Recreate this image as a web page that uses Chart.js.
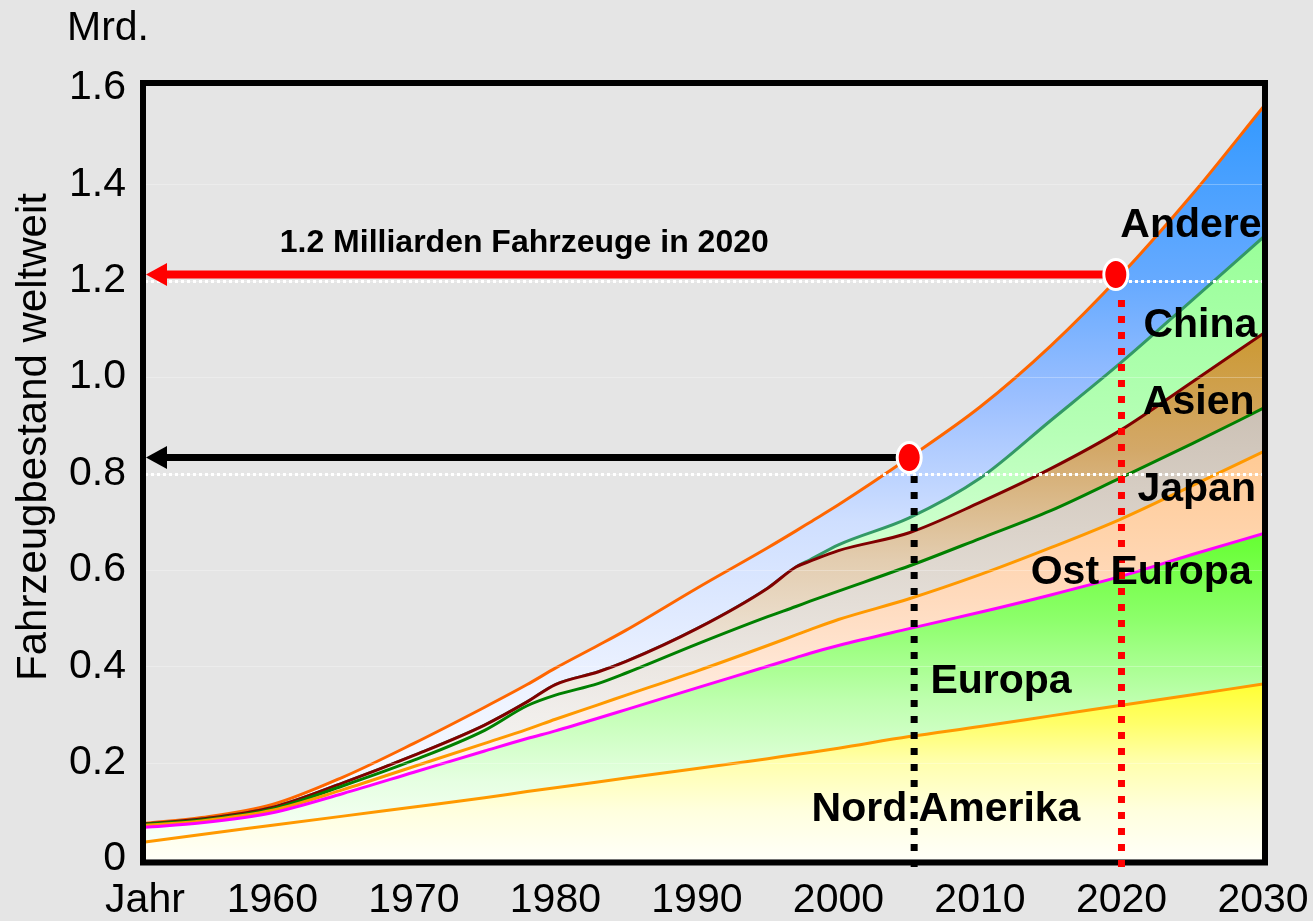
<!DOCTYPE html>
<html lang="de">
<head>
<meta charset="utf-8">
<title>Fahrzeugbestand weltweit</title>
<script src="https://cdn.jsdelivr.net/npm/chart.js@4/dist/chart.umd.min.js"></script>
<style>
  html, body { margin: 0; padding: 0; background: #e5e5e5; }
  #wrap { width: 1313px; height: 921px; position: relative; }
  canvas { display: block; }
</style>
</head>
<body>
<div id="wrap"><canvas id="chart" width="1313" height="921"></canvas></div>
<script>
// Vehicle stock by region (billions), stacked bottom to top
const years       = [1951, 1955, 1960, 1965, 1970, 1975, 1978, 1980, 1983, 1985, 1990, 1995, 1997, 1998, 2000, 2005, 2010, 2015, 2020, 2025, 2030];
const nordAmerika = [0.035, 0.051, 0.070, 0.089, 0.108, 0.127, 0.140, 0.148, 0.160, 0.168, 0.188, 0.208, 0.217, 0.221, 0.230, 0.254, 0.275, 0.297, 0.319, 0.341, 0.363];
const europa      = [0.031, 0.024, 0.026, 0.047, 0.072, 0.097, 0.110, 0.118, 0.132, 0.142, 0.167, 0.192, 0.201, 0.206, 0.213, 0.224, 0.237, 0.251, 0.268, 0.291, 0.312];
const ostEuropa   = [0.004, 0.004, 0.005, 0.008, 0.012, 0.016, 0.019, 0.024, 0.028, 0.030, 0.035, 0.043, 0.047, 0.049, 0.054, 0.062, 0.078, 0.098, 0.119, 0.143, 0.170];
const japan       = [0.002, 0.002, 0.003, 0.008, 0.013, 0.027, 0.049, 0.050, 0.044, 0.046, 0.056, 0.060, 0.059, 0.059, 0.059, 0.068, 0.075, 0.077, 0.086, 0.087, 0.090];
const asien       = [0.001, 0.002, 0.003, 0.006, 0.010, 0.011, 0.008, 0.022, 0.024, 0.024, 0.032, 0.059, 0.082, 0.083, 0.084, 0.069, 0.075, 0.087, 0.099, 0.128, 0.155];
const china       = [0.000, 0.000, 0.000, 0.000, 0.000, 0.000, 0.000, 0.000, 0.000, 0.000, 0.000, 0.000, 0.000, 0.003, 0.012, 0.031, 0.050, 0.100, 0.140, 0.170, 0.200];
const andere      = [0.001, 0.003, 0.006, 0.012, 0.025, 0.037, 0.036, 0.034, 0.055, 0.065, 0.084, 0.084, 0.075, 0.078, 0.083, 0.125, 0.148, 0.155, 0.182, 0.219, 0.270];

// Axis ticks
const tickYears  = [1951, 1960, 1970, 1980, 1990, 2000, 2010, 2020, 2030];
const tickLabels = ['Jahr', '1960', '1970', '1980', '1990', '2000', '2010', '2020', '2030'];
const yTicks     = [0, 0.2, 0.4, 0.6, 0.8, 1.0, 1.2, 1.4, 1.6];
const refLevels  = [0.8, 1.2];

const FONT = '"Liberation Sans", Arial, Helvetica, sans-serif';

// Line colour and vertical gradient stops ([value, colour]) for each region
const regionStyles = [
  { label: 'Nord Amerika', data: nordAmerika, line: '#FF9900',
    stops: [[0.363, '#FFFF33'], [0.28, '#FFFF6A'], [0.2, '#FFFFAE'], [0.1, '#FFFFDE'], [0, '#FFFFF8']] },
  { label: 'Europa', data: europa, line: '#FF00FF',
    stops: [[0.67, '#66FF33'], [0.5, '#8CFF6A'], [0.33, '#BEFFAE'], [0.16, '#E6FFE2'], [0.04, '#F8FFF8']] },
  { label: 'Ost Europa', data: ostEuropa, line: '#FF9900',
    stops: [[0.845, '#FFCA94'], [0.55, '#FFDABC'], [0.3, '#FFEEE4'], [0.1, '#FFF8F4']] },
  { label: 'Japan', data: japan, line: '#008000',
    stops: [[0.935, '#CCC1B5'], [0.6, '#E0D9D1'], [0.3, '#F1EEEB'], [0.1, '#F8F7F6']] },
  { label: 'Asien', data: asien, line: '#800000',
    stops: [[1.09, '#CC9933'], [0.85, '#D3A868'], [0.62, '#E3CDB0'], [0.4, '#F0E8DE'], [0.15, '#F7F4F0']] },
  { label: 'China', data: china, line: '#339966',
    stops: [[1.29, '#99FF99'], [0.9, '#B5FFB5'], [0.6, '#D6FFD6']] },
  { label: 'Andere', data: andere, line: '#FF6600',
    stops: [[1.56, '#3399FF'], [1.2, '#66AAFF'], [0.95, '#9DC0FF'], [0.7, '#CFDFFF'], [0.35, '#EEF3FF'], [0.1, '#F8FAFF']] }
];

// Region labels placed in data coordinates
const regionLabels = [
  { text: 'Andere',       year: 2029.9, value: 1.315, align: 'right' },
  { text: 'China',        year: 2029.6, value: 1.106, align: 'right' },
  { text: 'Asien',        year: 2029.4, value: 0.946, align: 'right' },
  { text: 'Japan',        year: 2029.5, value: 0.766, align: 'right' },
  { text: 'Ost Europa',   year: 2029.2, value: 0.595, align: 'right' },
  { text: 'Europa',       year: 2006.5, value: 0.367, align: 'left' },
  { text: 'Nord Amerika', year: 1998.1, value: 0.102, align: 'left' }
];

// Highlighted years: dot on the total, arrow to the y axis, dotted drop line
const markers = [
  { year: 2005, dotYear: 2005, guideYear: 2005.35, arrow: '#000000', arrowWidth: 7, guide: '#000000' },
  { year: 2020, dotYear: 2019.6, guideYear: 2020,  arrow: '#FF0000', arrowWidth: 8, guide: '#FF0000' }
];
const arrowNote = { text: '1.2 Milliarden Fahrzeuge in 2020', year: 1977.8, value: 1.279 };

const totals = years.map((_, i) => regionStyles.reduce((s, r) => s + r.data[i], 0));

function gradientFill(stops) {
  return (context) => {
    const chart = context.chart;
    const area = chart.chartArea;
    if (!area) return stops[0][1];
    const y = chart.scales.y;
    const top = y.getPixelForValue(stops[0][0]);
    const bottom = y.getPixelForValue(stops[stops.length - 1][0]);
    const g = chart.ctx.createLinearGradient(0, top, 0, bottom);
    stops.forEach(([v, c]) => {
      const t = (y.getPixelForValue(v) - top) / (bottom - top);
      g.addColorStop(Math.min(1, Math.max(0, t)), c);
    });
    return g;
  };
}

const datasets = regionStyles.map((r, idx) => ({
  label: r.label,
  data: years.map((yr, i) => ({ x: yr, y: r.data[i] })),
  borderColor: r.line,
  borderWidth: 3,
  backgroundColor: gradientFill(r.stops),
  fill: idx === 0 ? 'origin' : '-1',
  pointRadius: 0,
  pointHoverRadius: 0,
  cubicInterpolationMode: 'monotone'
}));

const decorations = {
  id: 'decorations',
  afterDatasetsDraw(chart) {
    const { ctx, chartArea: ca, scales: { y } } = chart;
    ctx.save();
    // faint horizontal grid
    ctx.strokeStyle = 'rgba(255,255,255,0.28)';
    ctx.lineWidth = 1;
    yTicks.forEach(v => {
      if (v === 0 || v === 1.6) return;
      const py = Math.round(y.getPixelForValue(v)) + 0.5;
      ctx.beginPath(); ctx.moveTo(ca.left, py); ctx.lineTo(ca.right, py); ctx.stroke();
    });
    ctx.restore();
  },
  afterDraw(chart) {
    const { ctx, chartArea: ca, scales: { x, y } } = chart;
    ctx.save();

    // white dotted reference levels
    ctx.strokeStyle = '#FFFFFF';
    ctx.lineWidth = 3;
    ctx.setLineDash([3, 3]);
    refLevels.forEach(v => {
      const py = Math.round(y.getPixelForValue(v)) + 0.5;
      ctx.beginPath(); ctx.moveTo(ca.left, py); ctx.lineTo(ca.right, py); ctx.stroke();
    });
    ctx.setLineDash([]);

    // plot frame
    ctx.strokeStyle = '#000000';
    ctx.lineWidth = 6;
    ctx.strokeRect(ca.left - 2, ca.top - 5, ca.right - ca.left + 4, ca.bottom - ca.top + 8.5);

    markers.forEach(m => {
      const idx = years.indexOf(m.year);
      const total = totals[idx];
      const dx = x.getPixelForValue(m.dotYear);
      const dy = y.getPixelForValue(total);
      const gx = x.getPixelForValue(m.guideYear);

      // dotted drop line, drawn upward from the bottom
      ctx.strokeStyle = m.guide;
      ctx.lineWidth = 7;
      ctx.setLineDash([7, 9]);
      ctx.beginPath();
      ctx.moveTo(gx, ca.bottom + 8);
      ctx.lineTo(gx, dy + 17);
      ctx.stroke();
      ctx.setLineDash([]);

      // arrow to the value axis
      const tip = ca.left + 1;
      ctx.strokeStyle = m.arrow;
      ctx.lineWidth = m.arrowWidth;
      ctx.beginPath();
      ctx.moveTo(tip + 18, dy);
      ctx.lineTo(dx - 10, dy);
      ctx.stroke();
      ctx.fillStyle = m.arrow;
      ctx.beginPath();
      ctx.moveTo(tip, dy);
      ctx.lineTo(tip + 21, dy - 11.5);
      ctx.lineTo(tip + 21, dy + 11.5);
      ctx.closePath();
      ctx.fill();

      // dot
      ctx.beginPath();
      ctx.ellipse(dx, dy, 12, 15, 0, 0, Math.PI * 2);
      ctx.fillStyle = '#FF0000';
      ctx.fill();
      ctx.strokeStyle = '#FFFFFF';
      ctx.lineWidth = 3;
      ctx.stroke();
    });

    // region labels
    ctx.fillStyle = '#000000';
    ctx.font = 'bold 41px ' + FONT;
    ctx.textBaseline = 'middle';
    regionLabels.forEach(l => {
      ctx.textAlign = l.align;
      ctx.fillText(l.text, x.getPixelForValue(l.year), y.getPixelForValue(l.value));
    });

    // arrow note
    ctx.font = 'bold 32px ' + FONT;
    ctx.textAlign = 'center';
    ctx.fillText(arrowNote.text, x.getPixelForValue(arrowNote.year), y.getPixelForValue(arrowNote.value));

    // unit and axis title
    ctx.font = '41px ' + FONT;
    ctx.textAlign = 'left';
    ctx.textBaseline = 'alphabetic';
    ctx.fillText('Mrd.', 67, 40);

    ctx.save();
    ctx.translate(46, 437);
    ctx.rotate(-Math.PI / 2);
    ctx.textAlign = 'center';
    ctx.font = '42px ' + FONT;
    ctx.fillText('Fahrzeugbestand weltweit', 0, 0);
    ctx.restore();

    ctx.restore();
  }
};

new Chart(document.getElementById('chart'), {
  type: 'line',
  data: { datasets },
  plugins: [decorations],
  options: {
    responsive: false,
    animation: false,
    devicePixelRatio: 1,
    layout: { padding: { left: 0, right: 50, top: 88, bottom: 0 } },
    plugins: {
      legend: { display: false },
      tooltip: { enabled: false },
      filler: { propagate: false }
    },
    scales: {
      x: {
        type: 'linear',
        min: 1951,
        max: 2030,
        grid: { display: false, drawTicks: false },
        border: { display: false },
        afterFit: (s) => { s.height = 62; s.paddingLeft = 0; s.paddingRight = 0; },
        afterBuildTicks: (s) => { s.ticks = tickYears.map(v => ({ value: v })); },
        ticks: {
          autoSkip: false,
          maxRotation: 0,
          padding: 17,
          color: '#000000',
          font: { family: FONT, size: 41 },
          callback: (v) => tickLabels[tickYears.indexOf(v)]
        }
      },
      y: {
        stacked: true,
        min: 0,
        max: 1.6,
        grid: { display: false, drawTicks: false },
        border: { display: false },
        afterFit: (s) => { s.width = 145; },
        afterBuildTicks: (s) => { s.ticks = yTicks.map(v => ({ value: v })); },
        ticks: {
          padding: 19,
          color: '#000000',
          font: { family: FONT, size: 41 },
          callback: (v) => (Math.abs(v) < 1e-9 ? '0' : v.toFixed(1))
        }
      }
    }
  }
});
</script>
</body>
</html>
